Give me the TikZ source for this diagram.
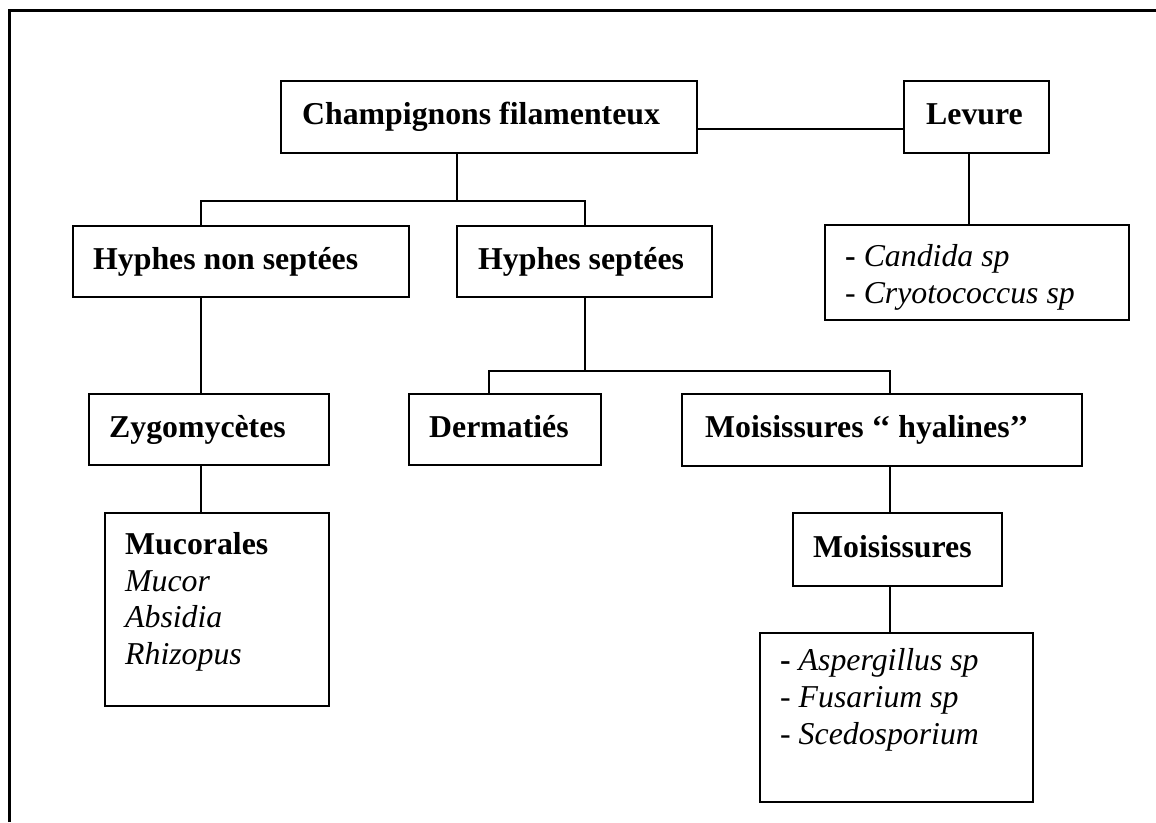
\documentclass[tikz,border=0pt]{standalone}
\usepackage{fontspec}
\setmainfont{Liberation Serif}
\begin{document}
\begin{tikzpicture}[x=1pt,y=-1pt,
  box/.style={draw=black, line width=2pt, fill=white, rectangle, inner sep=0pt, outer sep=0pt},
  txt/.style={anchor=base west, inner sep=0pt, font=\fontsize{31.8}{36.7}\selectfont},
  link/.style={draw=black, line width=1.7pt},
  frame/.style={draw=black, line width=3pt}]
\useasboundingbox (0,0) rectangle (1156,822);
\fill[white] (0,0) rectangle (1156,822);

% outer frame (open to the right and bottom)
\draw[frame] (9,822) -- (9,10) -- (1156,10);

% boxes
\node[box, minimum width=416pt, minimum height=72pt] (champ) at (489,117) {};
\node[box, minimum width=145pt, minimum height=72pt] (levure) at (976.5,117) {};
\node[box, minimum width=304pt, minimum height=95pt] (candida) at (977,272.5) {};
\node[box, minimum width=336pt, minimum height=71pt] (hns) at (241,261.5) {};
\node[box, minimum width=255pt, minimum height=71pt] (hs) at (584.5,261.5) {};
\node[box, minimum width=240pt, minimum height=71pt] (zygo) at (209,429.5) {};
\node[box, minimum width=192pt, minimum height=71pt] (derm) at (505,429.5) {};
\node[box, minimum width=400pt, minimum height=72pt] (hyal) at (882,430) {};
\node[box, minimum width=209pt, minimum height=73pt] (mois) at (897.5,549.5) {};
\node[box, minimum width=224pt, minimum height=193pt] (mucor) at (217,609.5) {};
\node[box, minimum width=273pt, minimum height=169pt] (asper) at (896.5,717.5) {};

% branch points and connector guides
\coordinate (cl) at (800,129);
\coordinate (lv) at (969,190);
\coordinate (j1) at (457,201);
\coordinate (j1l) at (201,201);
\coordinate (j1r) at (585,201);
\coordinate (j2) at (585,371);
\coordinate (j2l) at (489,371);
\coordinate (j2r) at (890,371);

% connectors
\draw[link] (champ.east |- cl) -- (levure.west |- cl);
\draw[link] (levure.south -| lv) -- (candida.north -| lv);
\draw[link] (champ.south -| j1) -- (j1);
\draw[link] (hns.north -| j1l) -- (j1l) -- (j1r) -- (hs.north -| j1r);
\draw[link] (hns.south -| j1l) -- (zygo.north -| j1l);
\draw[link] (zygo.south -| j1l) -- (mucor.north -| j1l);
\draw[link] (hs.south -| j2) -- (j2);
\draw[link] (derm.north -| j2l) -- (j2l) -- (j2r) -- (hyal.north -| j2r);
\draw[link] (hyal.south -| j2r) -- (mois.north -| j2r);
\draw[link] (mois.south -| j2r) -- (asper.north -| j2r);

% labels
\node[txt] (tchamp) at (302,124) {\textbf{Champignons filamenteux}};
\node[txt] (tlev) at (926,124) {\textbf{Levure}};
\node[txt] (tcand1) at (845,266) {\textbf{-} \textit{Candida sp}};
\node[txt] (tcand2) at (845,303) {- \textit{Cryotococcus sp}};
\node[txt] (thns) at (93,269) {\textbf{Hyphes non septées}};
\node[txt] (ths) at (478,269) {\textbf{Hyphes septées}};
\node[txt] (tzygo) at (109,437) {\textbf{Zygomycètes}};
\node[txt] (tderm) at (429,437) {\textbf{Dermatiés}};
\node[txt] (thyal) at (705,437) {\textbf{Moisissures ‘‘ hyalines’’}};
\node[txt] (tmois) at (813,557) {\textbf{Moisissures}};
\node[txt] (tmuc1) at (125,554) {\textbf{Mucorales}};
\node[txt] (tmuc2) at (125,591) {\textit{Mucor}};
\node[txt] (tmuc3) at (125,627) {\textit{Absidia}};
\node[txt] (tmuc4) at (125,664) {\textit{Rhizopus}};
\node[txt] (tasp1) at (780,670) {\textbf{-} \textit{Aspergillus sp}};
\node[txt] (tasp2) at (780,707) {- \textit{Fusarium sp}};
\node[txt] (tasp3) at (780,744) {- \textit{Scedosporium}};
\end{tikzpicture}
\end{document}
